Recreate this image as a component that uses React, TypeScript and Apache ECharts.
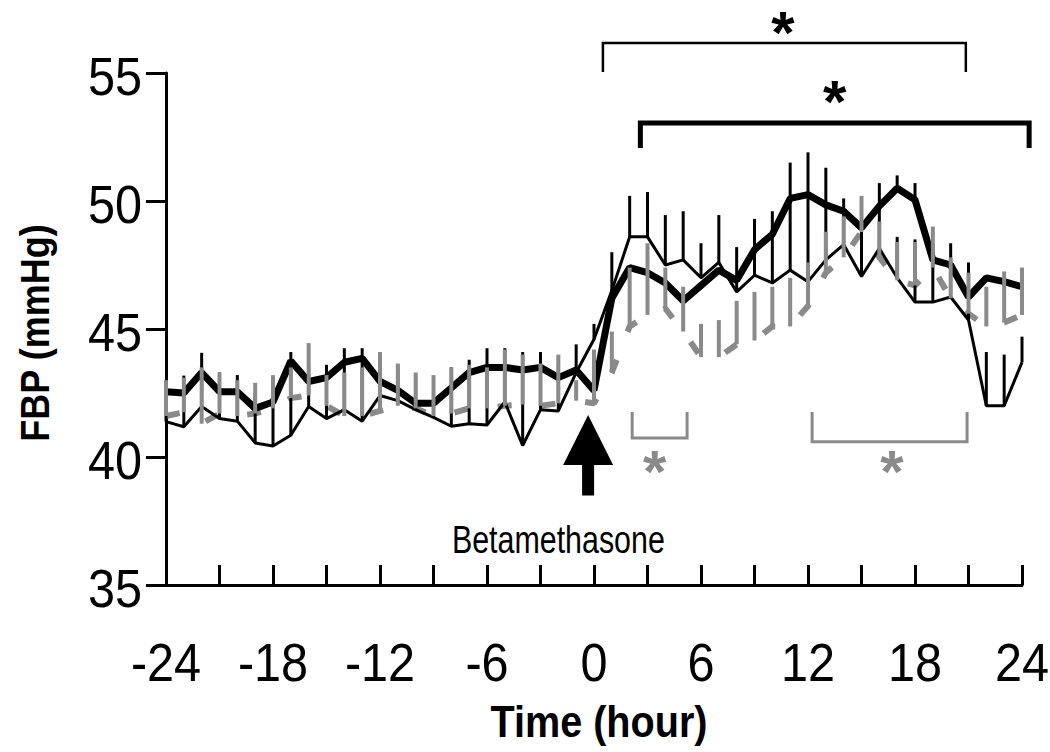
import React, { useEffect, useRef } from "react";
import * as echarts from "echarts";

// Time (hour) of each sample
const hours = [
  -24, -23, -22, -21, -20, -19, -18, -17, -16, -15, -14, -13, -12, -11, -10, -9, -8, -7, -6, -5, -4, -3, -2, -1,
  0, 1, 2, 3, 4, 5, 6, 7, 8, 9, 10, 11, 12, 13, 14, 15, 16, 17, 18, 19, 20, 21, 22, 23, 24,
];

// Thick black line
const thickMean = [
  42.55, 42.5, 43.3, 42.55, 42.55, 41.9, 42.15, 43.75, 42.95, 43.1, 43.7, 43.85, 42.95, 42.6, 42.1, 42.1, 42.7, 43.3,
  43.5, 43.5, 43.4, 43.5, 43.1, 43.4, 42.6, 46.2, 47.4, 47.2, 46.8, 46.1, 46.7, 47.3, 46.9, 48.1, 48.7, 50.1, 50.25,
  49.85, 49.6, 48.95, 49.8, 50.5, 50.05, 47.7, 47.5, 46.25, 47.0, 46.85, 46.65,
];
const thickErr = [
  0, 0, 0, 0, 0, 0, 0, 0, 0, 0, 0, 0, 0, 0, 0, 0, 0, 0, 0, 0, 0, 0, 0, 0, 0, 0, 0, 0, 0, 0, 0, 0, 0, 0, 0, 0, 0, 0, 0,
  0, 0, 0.5, 0.65, 0, 0, 0, 0, 0, 0,
];

// Thin black line
const thinMean = [
  41.38, 41.18, 41.97, 41.5, 41.4, 40.55, 40.43, 40.85, 41.97, 41.5, 41.85, 41.4, 42.4, 42.2, 41.85, 41.55, 41.2, 41.3,
  41.25, 42.15, 40.45, 41.85, 41.8, 43.3, 44.6, 46.5, 48.6, 48.6, 47.5, 47.7, 47.0, 47.6, 46.45, 47.1, 46.8, 47.3,
  46.85, 47.7, 48.3, 47.05, 48.15, 47.0, 46.05, 46.05, 46.25, 45.35, 42.0, 42.0, 43.7,
];
const thinErr = [
  1.3, 2.0, 2.1, 1.8, 1.8, 1.95, 2.15, 3.25, 1.55, 2.1, 2.4, 2.85, 1.0, 1.4, 1.35, 1.45, 2.3, 2.5, 3.0, 2.1, 3.65, 2.25,
  1.8, 1.1, 0.6, 1.5, 1.6, 1.75, 1.95, 1.9, 1.35, 1.85, 1.75, 2.2, 2.8, 4.2, 5.05, 3.6, 1.8, 1.75, 2.55, 1.6, 2.45,
  2.25, 2.1, 2.25, 2.1, 2.0, 1.0,
];

// Gray dashed line
const grayMean = [
  41.6, 41.75, 41.3, 41.7, 41.6, 41.7, 41.9, 42.3, 42.4, 42.0, 41.6, 41.6, 41.8, 42.0, 41.9, 41.6, 41.7, 41.9, 41.9,
  42.0, 42.05, 42.0, 42.1, 42.2, 42.1, 43.3, 45.1, 45.55, 45.8, 44.9, 43.9, 43.9, 44.4, 44.55, 45.1, 45.1, 45.9, 47.2,
  47.8, 48.8, 47.8, 46.9, 46.7, 47.4, 46.2, 45.6, 45.1, 45.25, 45.55,
];
const grayErr = [
  1.4, 1.35, 2.2, 1.6, 1.4, 1.2, 1.3, 1.2, 2.05, 1.2, 1.7, 1.9, 2.3, 1.65, 1.4, 1.6, 1.8, 1.7, 1.6, 2.2, 1.95, 1.65, 1.9,
  0.8, 2.1, 1.6, 2.3, 2.8, 1.6, 1.75, 1.3, 1.45, 1.7, 1.9, 1.55, 1.9, 1.7, 1.6, 1.6, 1.4, 1.4, 1.5, 1.7, 1.6, 1.6, 1.6,
  1.55, 2.0, 1.85,
];

const xTickLabels = ["-24", "-18", "-12", "-6", "0", "6", "12", "18", "24"];
const yTickLabels = ["35", "40", "45", "50", "55"];

const FONT = "'Liberation Sans', Arial, sans-serif";
const GRAY = "#8a8a8a";

function errSeries(name: string, means: number[], errs: number[], color: string, width: number, z: number) {
  return {
    type: "custom",
    name,
    z,
    silent: true,
    clip: false,
    encode: { x: 0, y: [1, 2] },
    data: hours.map((h, i) => [h, means[i], means[i] + errs[i]]),
    renderItem: (params: any, api: any) => {
      const lo = api.value(1);
      const hi = api.value(2);
      if (hi - lo <= 0) return null;
      const p0 = api.coord([api.value(0), lo]);
      const p1 = api.coord([api.value(0), hi]);
      return {
        type: "line",
        shape: { x1: p0[0], y1: p0[1], x2: p1[0], y2: p1[1] },
        style: { stroke: color, lineWidth: width },
      };
    },
  };
}

export default function App() {
  const ref = useRef<HTMLDivElement>(null);

  useEffect(() => {
    if (!ref.current) return;
    const chart = echarts.init(ref.current, undefined, { renderer: "svg" });
    const option: any = {
      animation: false,
      backgroundColor: "#ffffff",
      grid: { left: 166, right: 28, top: 73, bottom: 167, containLabel: false },
      xAxis: {
        type: "value",
        min: -24,
        max: 24,
        interval: 3,
        axisLine: { show: true, onZero: false, lineStyle: { color: "#000", width: 3 } },
        axisTick: { show: true, inside: true, length: 20, lineStyle: { color: "#000", width: 3 } },
        splitLine: { show: false },
        axisLabel: { show: false },
      },
      yAxis: {
        type: "value",
        min: 35,
        max: 55,
        interval: 5,
        axisLine: { show: true, onZero: false, lineStyle: { color: "#000", width: 3 } },
        axisTick: { show: true, inside: false, length: 20, lineStyle: { color: "#000", width: 3 } },
        splitLine: { show: false },
        axisLabel: { show: false },
      },
      series: [
        {
          type: "line",
          name: "gray",
          z: 1,
          symbol: "none",
          silent: true,
          data: hours.map((h, i) => [h, grayMean[i]]),
          lineStyle: { color: GRAY, width: 6, type: [14, 30], cap: "butt" },
        },
        {
          type: "line",
          name: "thick",
          z: 3,
          symbol: "none",
          silent: true,
          data: hours.map((h, i) => [h, thickMean[i]]),
          lineStyle: { color: "#000", width: 7 },
        },
        {
          type: "line",
          name: "thin",
          z: 3,
          symbol: "none",
          silent: true,
          data: hours.map((h, i) => [h, thinMean[i]]),
          lineStyle: { color: "#000", width: 3 },
        },
        errSeries("thickErr", thickMean, thickErr, "#000", 3, 4),
        errSeries("thinErr", thinMean, thinErr, "#000", 3, 4),
        errSeries("grayErr", grayMean, grayErr, GRAY, 4, 5),
      ],
    };
    chart.setOption(option);

    const px = (x: number, y: number) => chart.convertToPixel({ gridIndex: 0 }, [x, y]) as number[];

    const txt = (x: number, y: number, text: string, size: number, sx: number, opts: any = {}) => ({
      type: "text",
      x,
      y,
      scaleX: sx,
      rotation: opts.rotation || 0,
      silent: true,
      style: {
        text,
        fill: opts.fill || "#000",
        font: `${opts.bold ? "bold " : ""}${size}px ${FONT}`,
        textAlign: opts.align || "center",
        textVerticalAlign: "middle",
      },
    });

    // tick labels
    const tickGraphics: any[] = [];
    xTickLabels.forEach((l) => {
      const p = px(Number(l), 35);
      tickGraphics.push(txt(p[0], p[1] + 77, l, 54, 0.9));
    });
    yTickLabels.forEach((l) => {
      const p = px(-24, Number(l));
      tickGraphics.push(txt(p[0] - 24, p[1] + 3, l, 54, 0.9, { align: "right" }));
    });

    // Annotation geometry in data units (hours, mmHg)
    const arrowTip = px(-0.33, 41.64);
    const arrowHead = px(-0.33, 39.69);
    const arrowBottom = px(-0.33, 38.5);
    const ax = arrowTip[0];

    const b1a = px(0.5, 56.17);
    const b1b = px(20.85, 55.04);
    const b2a = px(2.6, 53.05);
    const b2b = px(24.4, 52.07);
    const g1a = px(2.14, 41.76);
    const g1b = px(5.22, 40.74);
    const g2a = px(12.23, 41.76);
    const g2b = px(20.92, 40.6);

    const star1 = px(10.6, 56.95);
    const star2 = px(13.5, 54.22);
    const gstar1 = px(3.4, 39.8);
    const gstar2 = px(16.7, 39.8);
    const beta = px(-2.0, 36.76);

    const starText = (p: number[], color: string) => txt(p[0], p[1] + 9, "*", 60, 1, { bold: true, fill: color });

    chart.setOption({
      graphic: [
        ...tickGraphics,
        {
          type: "polygon",
          silent: true,
          shape: {
            points: [
              [ax, arrowTip[1]],
              [ax + 25, arrowHead[1]],
              [ax + 6, arrowHead[1]],
              [ax + 6, arrowBottom[1]],
              [ax - 6, arrowBottom[1]],
              [ax - 6, arrowHead[1]],
              [ax - 25, arrowHead[1]],
            ],
          },
          style: { fill: "#000" },
        },
        txt(beta[0], beta[1], "Betamethasone", 38, 0.8),
        {
          type: "polyline",
          silent: true,
          shape: { points: [[b1a[0], b1b[1]], [b1a[0], b1a[1]], [b1b[0], b1a[1]], [b1b[0], b1b[1]]] },
          style: { stroke: "#000", lineWidth: 2.5, fill: null },
        },
        {
          type: "polyline",
          silent: true,
          shape: { points: [[b2a[0], b2b[1]], [b2a[0], b2a[1]], [b2b[0], b2a[1]], [b2b[0], b2b[1]]] },
          style: { stroke: "#000", lineWidth: 5, fill: null },
        },
        {
          type: "polyline",
          silent: true,
          shape: { points: [[g1a[0], g1a[1]], [g1a[0], g1b[1]], [g1b[0], g1b[1]], [g1b[0], g1a[1]]] },
          style: { stroke: GRAY, lineWidth: 3, fill: null },
        },
        {
          type: "polyline",
          silent: true,
          shape: { points: [[g2a[0], g2a[1]], [g2a[0], g2b[1]], [g2b[0], g2b[1]], [g2b[0], g2a[1]]] },
          style: { stroke: GRAY, lineWidth: 3, fill: null },
        },
        starText(star1, "#000"),
        starText(star2, "#000"),
        starText(gstar1, GRAY),
        starText(gstar2, GRAY),
        txt(35, 333, "FBP (mmHg)", 40, 0.9, { bold: true, rotation: Math.PI / 2 }),
        txt(599, 722, "Time (hour)", 44, 0.9, { bold: true }),
      ],
    });

    return () => chart.dispose();
  }, []);

  return (
    <div
      ref={ref}
      style={{ position: "fixed", left: 0, top: 0, width: 1050, height: 752, background: "#fff" }}
    />
  );
}
